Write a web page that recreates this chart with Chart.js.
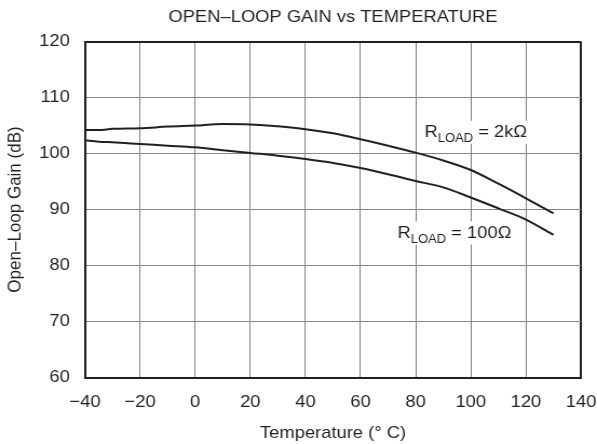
<!DOCTYPE html>
<html>
<head>
<meta charset="utf-8">
<title>Open-Loop Gain vs Temperature</title>
<script src="https://cdn.jsdelivr.net/npm/chart.js@4.4.1/dist/chart.umd.min.js"></script>
<style>
  html, body { margin: 0; padding: 0; background: #fff; }
  #gainChart { display: block; }
</style>
</head>
<body>
<!-- bitmap is 553 wide and shown 597 wide: the lettering comes out a bit broad -->
<canvas id="gainChart" width="553" height="444" style="width:597px;height:444px"></canvas>
<script>
// temperature (°C) and open-loop gain (dB) for the two loads
const temps    = [-40, -35, -30, -20, -10, 0, 10, 20, 30, 40, 50, 60, 70, 80, 90, 100, 110, 120, 130];
const gain2k   = [104.2, 104.2, 104.4, 104.5, 104.8, 105.0, 105.25, 105.2, 104.85, 104.35, 103.6, 102.55, 101.4, 100.15, 98.75, 97.05, 94.6, 92.0, 89.3];
const gain100  = [102.35, 102.1, 102.0, 101.7, 101.4, 101.1, 100.6, 100.1, 99.6, 99.0, 98.3, 97.4, 96.3, 95.1, 93.95, 92.15, 90.2, 88.2, 85.45];

const xTicks = [-40, -20, 0, 20, 40, 60, 80, 100, 120, 140];
const yTicks = [60, 70, 80, 90, 100, 110, 120];

const seriesNames = ['= 2kΩ', '= 100Ω'];

// where each "R LOAD = ..." note sits, in axis units (left end, baseline)
const notePos = [
    { t: 83.2, g: 103.0 },
    { t: 73.4, g: 85.0 }
];

const INK = '#231f20';
const GRID = '#858585';
const FONT = '"Liberation Sans", Arial, Helvetica, sans-serif';
const SIZE = 17;
const SUB_SIZE = 12;

Chart.defaults.font.family = FONT;
Chart.defaults.font.size = SIZE;
Chart.defaults.color = INK;

const toPoints = vals => temps.map((t, i) => ({ x: t, y: vals[i] }));

// grid line on the top/right edge doubles as the frame
const edgeColor = max => c => (c.tick && c.tick.value === max ? INK : GRID);
const edgeWidth = max => c => (c.tick && c.tick.value === max ? 2 : 1);

// R with LOAD subscript, on a white patch that breaks the grid behind it
const loadNotes = {
    id: 'loadNotes',
    afterDatasetsDraw(chart) {
        const { ctx, scales: { x, y } } = chart;
        ctx.save();
        ctx.textAlign = 'left';
        ctx.textBaseline = 'alphabetic';
        notePos.forEach((p, i) => {
            const x0 = x.getPixelForValue(p.t);
            const y0 = y.getPixelForValue(p.g);
            const tail = ' ' + seriesNames[i];

            ctx.font = `${SIZE}px ${FONT}`;
            const wR = ctx.measureText('R').width;
            const wTail = ctx.measureText(tail).width;
            ctx.font = `${SUB_SIZE}px ${FONT}`;
            const wSub = ctx.measureText('LOAD').width;

            ctx.fillStyle = '#fff';
            ctx.fillRect(x0 - 3, y0 - SIZE + 1, wR + wSub + wTail + 6, SIZE + 6);

            ctx.fillStyle = INK;
            ctx.font = `${SIZE}px ${FONT}`;
            ctx.fillText('R', x0, y0);
            ctx.font = `${SUB_SIZE}px ${FONT}`;
            ctx.fillText('LOAD', x0 + wR, y0 + 5);
            ctx.font = `${SIZE}px ${FONT}`;
            ctx.fillText(tail, x0 + wR + wSub, y0);
        });
        ctx.restore();
    }
};

const lineStyle = {
    borderColor: INK,
    borderWidth: 2,
    pointRadius: 0,
    fill: false,
    cubicInterpolationMode: 'monotone'
};

new Chart(document.getElementById('gainChart'), {
    type: 'line',
    data: {
        datasets: [
            { label: 'RLOAD ' + seriesNames[0], data: toPoints(gain2k), ...lineStyle },
            { label: 'RLOAD ' + seriesNames[1], data: toPoints(gain100), ...lineStyle }
        ]
    },
    options: {
        responsive: false,
        animation: false,
        layout: { padding: { left: 0, right: 14.8, top: 0, bottom: 0 } },
        plugins: {
            legend: { display: false },
            tooltip: { enabled: false },
            title: {
                display: true,
                text: 'OPEN–LOOP GAIN vs TEMPERATURE',
                fullSize: false,
                color: INK,
                font: { size: SIZE, weight: 'normal', lineHeight: 1.2 },
                padding: { top: 7.4, bottom: 13.7 }
            }
        },
        scales: {
            x: {
                type: 'linear',
                min: xTicks[0],
                max: xTicks[xTicks.length - 1],
                afterBuildTicks: s => { s.ticks = xTicks.map(v => ({ value: v })); },
                afterFit: s => {
                    s.height = 66.5;
                    // end labels may hang past the frame; keep the plot width fixed
                    s.paddingLeft = 0;
                    s.paddingRight = 0;
                },
                ticks: {
                    padding: 15,
                    maxRotation: 0,
                    color: INK,
                    callback: v => (v < 0 ? '\u2212' + Math.abs(v) : String(v))
                },
                grid: {
                    drawTicks: false,
                    color: edgeColor(xTicks[xTicks.length - 1]),
                    lineWidth: edgeWidth(xTicks[xTicks.length - 1])
                },
                border: { color: INK, width: 2 },
                title: {
                    display: true,
                    text: 'Temperature (° C)',
                    color: INK,
                    font: { size: SIZE, lineHeight: 1.2 },
                    padding: { top: 0, bottom: 0 }
                }
            },
            y: {
                min: yTicks[0],
                max: yTicks[yTicks.length - 1],
                afterBuildTicks: s => { s.ticks = yTicks.map(v => ({ value: v })); },
                afterFit: s => {
                    s.width = 78.7;
                    s.paddingTop = 0;
                    s.paddingBottom = 0;
                },
                ticks: { padding: 14, color: INK },
                grid: {
                    drawTicks: false,
                    color: edgeColor(yTicks[yTicks.length - 1]),
                    lineWidth: edgeWidth(yTicks[yTicks.length - 1])
                },
                border: { color: INK, width: 2 },
                title: {
                    display: true,
                    text: 'Open–Loop Gain (dB)',
                    color: INK,
                    font: { size: SIZE, lineHeight: 1.2 },
                    padding: { top: 4, bottom: 0 }
                }
            }
        }
    },
    plugins: [loadNotes]
});
</script>
</body>
</html>
